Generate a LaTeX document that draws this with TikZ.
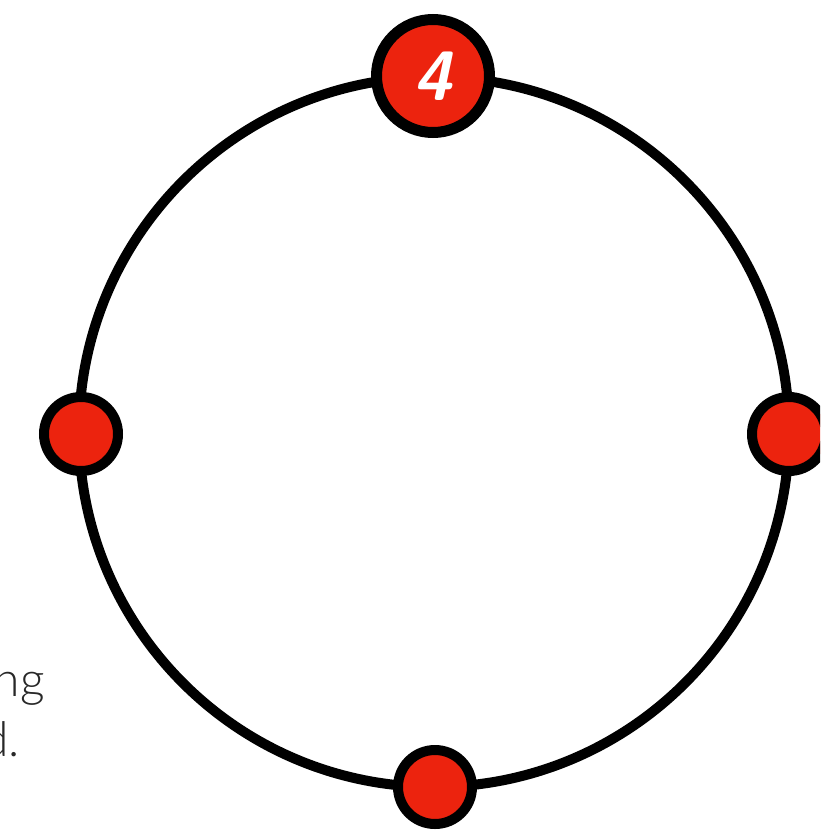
\documentclass[tikz,border=0pt]{standalone}
\usepackage{fontspec}
\usepackage{xcolor}
\usepackage{tikz}
\usetikzlibrary{positioning}
\newfontfamily\thinfont{Lato Light}
\definecolor{dotred}{RGB}{236,35,14}
\definecolor{textgray}{RGB}{40,40,40}

\begin{document}
\begin{tikzpicture}[x=1pt,y=-1pt]
\tikzstyle{marker}=[circle, draw=black, line width=10pt, fill=dotred, minimum size=74pt, inner sep=0pt]
\tikzstyle{bigmarker}=[marker, line width=11pt, minimum size=113pt]
\tikzstyle{caption}=[font=\thinfont\fontsize{48}{60}\selectfont, text=textgray, inner sep=0pt, anchor=base east]
\useasboundingbox (0,0) rectangle (820,833);
\clip (0,0) rectangle (820,833);
\coordinate (c) at (434,432);
\draw[line width=10pt] (c) circle (355);
\node[bigmarker] (n) at (433,76) {\sffamily\bfseries\itshape\color{white}\fontsize{70}{70}\selectfont 4};
\node[marker] (w) at (81,434) {};
\node[marker] (e) at (789,434) {};
\node[marker] (s) at (435,787) {};
% cropped text on the left
\node[caption] (l1) at (45,696) {ng};
\node[caption] (l2) at (20,756) {d.};
\end{tikzpicture}
\end{document}
